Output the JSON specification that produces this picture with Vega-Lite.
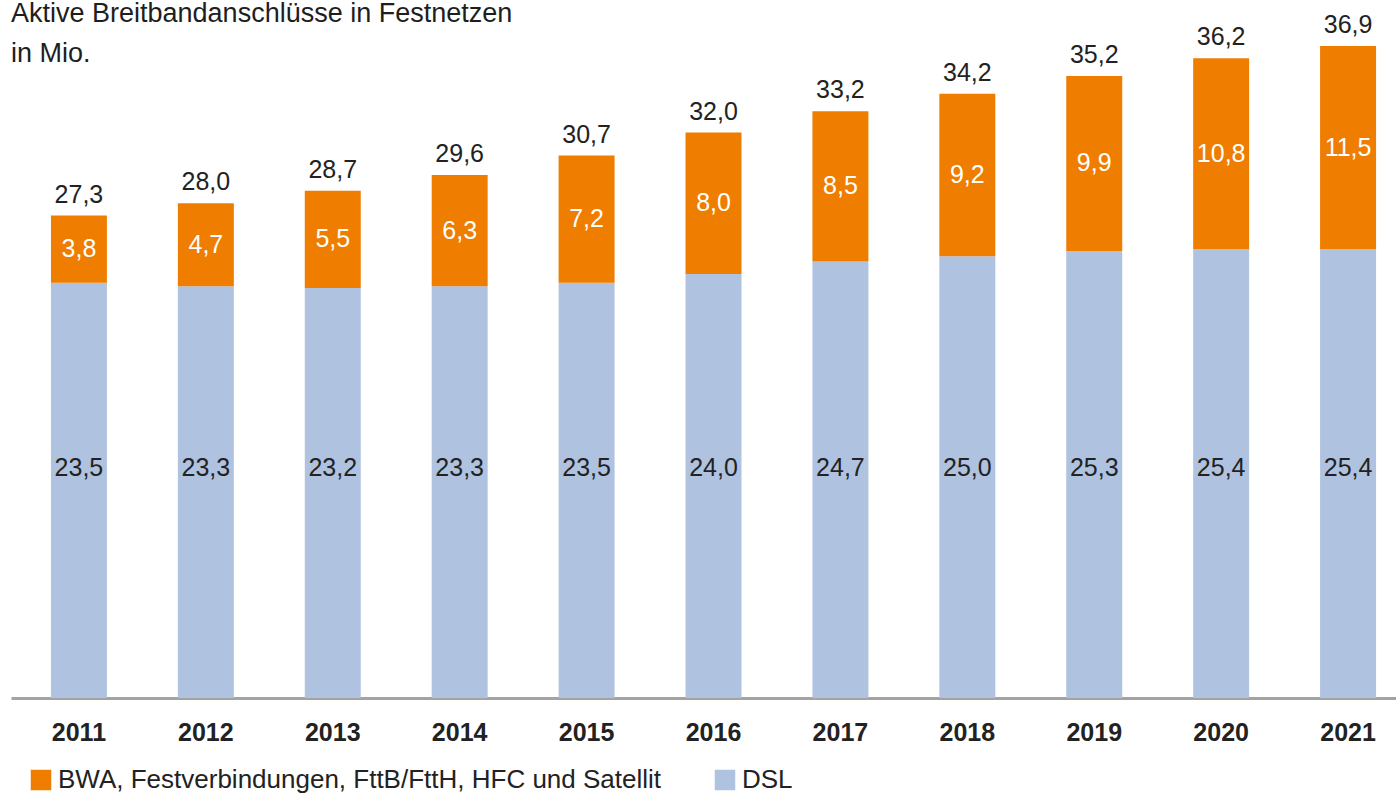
{
  "$schema": "https://vega.github.io/schema/vega-lite/v6.json",
  "width": 1385,
  "height": 698,
  "autosize": "none",
  "padding": {"left": 11, "top": 0, "right": 0, "bottom": 95},
  "background": "white",
  "title": {
    "text": ["Aktive Breitbandanschlüsse in Festnetzen", "in Mio."],
    "anchor": "start",
    "frame": "group",
    "font": "Liberation Sans",
    "fontSize": 27,
    "fontWeight": "normal",
    "color": "#1e1e1e",
    "lineHeight": 40,
    "dy": 72
  },
  "data": {
    "values": [
      {"Jahr": "2011", "Technologie": "DSL", "Anschluesse": 23.5},
      {"Jahr": "2011", "Technologie": "BWA, Festverbindungen, FttB/FttH, HFC und Satellit", "Anschluesse": 3.8},
      {"Jahr": "2012", "Technologie": "DSL", "Anschluesse": 23.3},
      {"Jahr": "2012", "Technologie": "BWA, Festverbindungen, FttB/FttH, HFC und Satellit", "Anschluesse": 4.7},
      {"Jahr": "2013", "Technologie": "DSL", "Anschluesse": 23.2},
      {"Jahr": "2013", "Technologie": "BWA, Festverbindungen, FttB/FttH, HFC und Satellit", "Anschluesse": 5.5},
      {"Jahr": "2014", "Technologie": "DSL", "Anschluesse": 23.3},
      {"Jahr": "2014", "Technologie": "BWA, Festverbindungen, FttB/FttH, HFC und Satellit", "Anschluesse": 6.3},
      {"Jahr": "2015", "Technologie": "DSL", "Anschluesse": 23.5},
      {"Jahr": "2015", "Technologie": "BWA, Festverbindungen, FttB/FttH, HFC und Satellit", "Anschluesse": 7.2},
      {"Jahr": "2016", "Technologie": "DSL", "Anschluesse": 24.0},
      {"Jahr": "2016", "Technologie": "BWA, Festverbindungen, FttB/FttH, HFC und Satellit", "Anschluesse": 8.0},
      {"Jahr": "2017", "Technologie": "DSL", "Anschluesse": 24.7},
      {"Jahr": "2017", "Technologie": "BWA, Festverbindungen, FttB/FttH, HFC und Satellit", "Anschluesse": 8.5},
      {"Jahr": "2018", "Technologie": "DSL", "Anschluesse": 25.0},
      {"Jahr": "2018", "Technologie": "BWA, Festverbindungen, FttB/FttH, HFC und Satellit", "Anschluesse": 9.2},
      {"Jahr": "2019", "Technologie": "DSL", "Anschluesse": 25.3},
      {"Jahr": "2019", "Technologie": "BWA, Festverbindungen, FttB/FttH, HFC und Satellit", "Anschluesse": 9.9},
      {"Jahr": "2020", "Technologie": "DSL", "Anschluesse": 25.4},
      {"Jahr": "2020", "Technologie": "BWA, Festverbindungen, FttB/FttH, HFC und Satellit", "Anschluesse": 10.8},
      {"Jahr": "2021", "Technologie": "DSL", "Anschluesse": 25.4},
      {"Jahr": "2021", "Technologie": "BWA, Festverbindungen, FttB/FttH, HFC und Satellit", "Anschluesse": 11.5}
    ]
  },
  "encoding": {
    "x": {
      "field": "Jahr",
      "type": "nominal",
      "scale": {"paddingInner": 0.559, "paddingOuter": 0.236, "align": 0.667},
      "axis": {
        "title": null,
        "labelAngle": 0,
        "labelFont": "Liberation Sans",
        "labelFontSize": 25,
        "labelFontWeight": "bold",
        "labelColor": "#222222",
        "labelPadding": 22,
        "ticks": false,
        "tickSize": 0,
        "domainColor": "#a3a3a3",
        "domainWidth": 3,
        "grid": false
      }
    }
  },
  "layer": [
    {
      "mark": {"type": "bar"},
      "encoding": {
        "y": {
          "field": "Anschluesse",
          "type": "quantitative",
          "stack": "zero",
          "scale": {"domain": [0, 39.5], "nice": false},
          "axis": null
        },
        "color": {
          "field": "Technologie",
          "type": "nominal",
          "scale": {
            "domain": ["BWA, Festverbindungen, FttB/FttH, HFC und Satellit", "DSL"],
            "range": ["#EE7D00", "#AFC2E0"]
          },
          "legend": {
            "orient": "none",
            "legendX": 17,
            "legendY": 767,
            "direction": "horizontal",
            "title": null,
            "symbolType": "square",
            "symbolSize": 420,
            "symbolStrokeWidth": 0,
            "labelFont": "Liberation Sans",
            "labelFontSize": 26,
            "labelColor": "#222222",
            "labelOffset": 4,
            "columnPadding": 50,
            "padding": 0,
            "labelLimit": 1000
          }
        },
        "order": {"field": "Technologie", "sort": "descending"}
      }
    },
    {
      "mark": {"type": "text", "baseline": "middle", "font": "Liberation Sans", "fontSize": 25, "color": "white"},
      "encoding": {
        "y": {"field": "Anschluesse", "type": "quantitative", "stack": "zero", "bandPosition": 0.5},
        "order": {"field": "Technologie", "sort": "descending"},
        "text": {"field": "Anschluesse", "type": "quantitative", "format": ".1f"},
        "opacity": {
          "condition": {"test": "datum.Technologie === 'DSL'", "value": 0},
          "value": 1
        }
      }
    },
    {
      "transform": [{"filter": "datum.Technologie === 'DSL'"}],
      "mark": {"type": "text", "baseline": "middle", "font": "Liberation Sans", "fontSize": 25, "color": "#222222"},
      "encoding": {
        "y": {"datum": 13},
        "text": {"field": "Anschluesse", "type": "quantitative", "format": ".1f"}
      }
    },
    {
      "transform": [
        {"aggregate": [{"op": "sum", "field": "Anschluesse", "as": "Gesamt"}], "groupby": ["Jahr"]}
      ],
      "mark": {"type": "text", "baseline": "alphabetic", "dy": -13, "font": "Liberation Sans", "fontSize": 25, "color": "#222222"},
      "encoding": {
        "y": {"field": "Gesamt", "type": "quantitative"},
        "text": {"field": "Gesamt", "type": "quantitative", "format": ".1f"}
      }
    }
  ],
  "config": {
    "view": {"stroke": null},
    "locale": {
      "number": {"decimal": ",", "thousands": ".", "grouping": [3], "currency": ["", " €"]}
    }
  }
}
